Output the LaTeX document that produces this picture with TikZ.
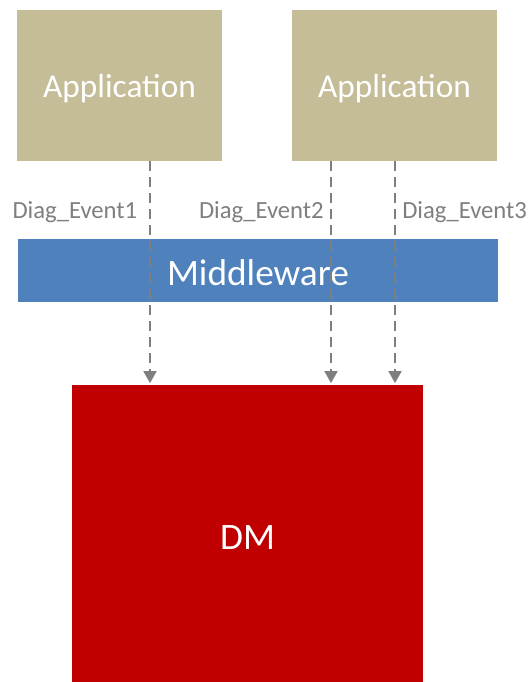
\documentclass[tikz,border=0pt]{standalone}
\usepackage{fontspec}
\setmainfont{Carlito}
\usetikzlibrary{arrows.meta}
\definecolor{apptan}{HTML}{C4BD97}
\definecolor{mwblue}{HTML}{4F81BD}
\definecolor{dmred}{HTML}{C00000}
\definecolor{evtgray}{HTML}{7F7F7F}
\tikzset{
  appbox/.style={rectangle, fill=apptan, text=white, minimum width=153.75pt, minimum height=113.25pt, text height=19pt, text depth=0pt, font=\fontsize{25}{30}\selectfont},
  mwbox/.style={rectangle, fill=mwblue, text=white, minimum width=360pt, minimum height=47.25pt, text height=23pt, text depth=0pt, font=\fontsize{28}{33}\selectfont},
  dmbox/.style={rectangle, fill=dmred, text=white, minimum width=263.25pt, minimum height=222.75pt, text height=24pt, text depth=0pt, font=\fontsize{28}{33}\selectfont},
  evtline/.style={draw=evtgray, line width=1.2pt, dash pattern=on 7.5pt off 4.5pt, -{Triangle[width=9.75pt,length=9pt]}, shorten >=1.2pt},
  evtlabel/.style={text=evtgray, inner sep=0pt, font=\fontsize{18.5}{22}\selectfont}
}
\begin{document}
\begin{tikzpicture}[x=0.75pt, y=-0.75pt]
  \useasboundingbox (0,0) rectangle (531,682);
  \node[appbox] (app1) at (119.5,85) {Application};
  \node[appbox] (app2) at (394.5,85) {Application};
  \node[mwbox] (mw) at (258,270.5) {Middleware};
  \node[dmbox] (dm) at (247.5,533.5) {DM};
  \coordinate (e1) at (150,0);
  \coordinate (e2) at (331,0);
  \coordinate (e3) at (395,0);
  \draw[evtline] (app1.south -| e1) -- (dm.north -| e1);
  \draw[evtline] (app2.south -| e2) -- (dm.north -| e2);
  \draw[evtline] (app2.south -| e3) -- (dm.north -| e3);
  \node[evtlabel, anchor=base east] (lbl1) at (137.5,218) {Diag\_Event1};
  \node[evtlabel, anchor=base east] (lbl2) at (324,218) {Diag\_Event2};
  \node[evtlabel, anchor=base west] (lbl3) at (402,218) {Diag\_Event3};
\end{tikzpicture}
\end{document}
